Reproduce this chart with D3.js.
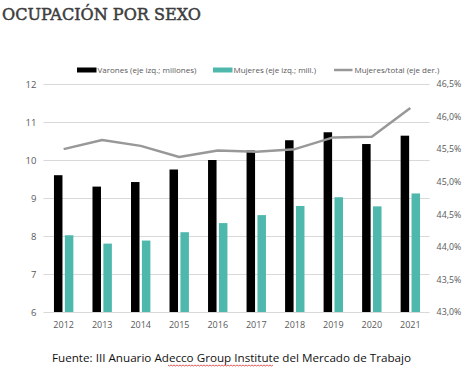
<!DOCTYPE html>
<html><head><meta charset="utf-8">
<script src="https://cdn.jsdelivr.net/npm/d3@7"></script>
<style>body{margin:0;background:#fff}svg{display:block}</style>
</head><body>
<svg id="c" width="467" height="370"></svg>
<script>
const years = ["2012","2013","2014","2015","2016","2017","2018","2019","2020","2021"];
const varones = [9.60, 9.30, 9.42, 9.75, 10.00, 10.25, 10.52, 10.73, 10.42, 10.64];
const mujeres = [8.02, 7.80, 7.88, 8.10, 8.34, 8.55, 8.79, 9.02, 8.78, 9.12];
const ratio = [45.50, 45.64, 45.55, 45.38, 45.48, 45.46, 45.50, 45.68, 45.69, 46.13];
const leftTicks = [6,7,8,9,10,11,12];
const rightTicks = [43.0,43.5,44.0,44.5,45.0,45.5,46.0,46.5];
const legendLabels = ["Varones (eje izq.; millones)","Mujeres (eje izq.; mill.)","Mujeres/total (eje der.)"];

const svg = d3.select("#c");
const L = 44.4, R = 429.6, T = 84, B = 312;
const x = d3.scaleBand().domain(years).range([L, R]);
const yL = d3.scaleLinear().domain([6,12]).range([B, T]);
const yR = d3.scaleLinear().domain([43,46.5]).range([B, T]);
const cBlack = "#000", cTeal = "#4fb8ad", cLine = "#989898", cText = "#595959";

// Title
svg.append("text").attr("x", 2).attr("y", 20)
  .attr("font-family", "DejaVu Serif").attr("font-weight", "normal")
  .attr("font-size", 16).attr("fill", "#3d3d3d").attr("stroke", "#3d3d3d").attr("stroke-width", 0.5)
  .attr("textLength", 199).attr("lengthAdjust", "spacingAndGlyphs")
  .text("OCUPACIÓN POR SEXO");

// gridlines
svg.append("g").selectAll("line").data(leftTicks).join("line")
  .attr("x1", L - 1).attr("x2", R).attr("y1", d => yL(d) + 0.5).attr("y2", d => yL(d) + 0.5)
  .attr("stroke", "#d9d9d9").attr("stroke-width", 1);

// left axis
const axL = svg.append("g").attr("transform", `translate(${L},0)`)
  .call(d3.axisLeft(yL).tickValues(leftTicks).tickSize(0).tickPadding(8).tickFormat(d3.format("d")));
axL.select(".domain").remove();
axL.selectAll("text").attr("font-family", "Open Sans").attr("font-size", 9.5).attr("fill", cText);

// right axis
const axR = svg.append("g").attr("transform", `translate(${R},0)`)
  .call(d3.axisRight(yR).tickValues(rightTicks).tickSize(0).tickPadding(7)
    .tickFormat(d => d.toFixed(1).replace(".", ",") + "%"));
axR.select(".domain").remove();
axR.selectAll("text").attr("font-family", "Open Sans").attr("font-size", 8.8).attr("fill", cText);

// bottom axis
const axB = svg.append("g").attr("transform", `translate(0,${B})`)
  .call(d3.axisBottom(x).tickSize(0).tickPadding(10));
axB.select(".domain").remove();
axB.selectAll("text").attr("font-family", "Open Sans").attr("font-size", 9).attr("fill", cText);

// bars
const bw = 8.5, gap = 2.4;
const cx = d => x(d) + x.bandwidth() / 2;
svg.append("g").selectAll("rect").data(years).join("rect")
  .attr("x", (d) => cx(d) - gap/2 - bw).attr("width", bw)
  .attr("y", (d, i) => yL(varones[i])).attr("height", (d, i) => B - yL(varones[i]))
  .attr("fill", cBlack);
svg.append("g").selectAll("rect").data(years).join("rect")
  .attr("x", (d) => cx(d) + gap/2).attr("width", bw)
  .attr("y", (d, i) => yL(mujeres[i])).attr("height", (d, i) => B - yL(mujeres[i]))
  .attr("fill", cTeal);

// line
const line = d3.line().x((d, i) => cx(years[i])).y(d => yR(d));
svg.append("path").datum(ratio).attr("d", line)
  .attr("fill", "none").attr("stroke", cLine).attr("stroke-width", 2.5).attr("stroke-linejoin", "round");

// legend
const lg = svg.append("g").attr("font-family", "Open Sans").attr("font-size", 8).attr("fill", cText);
const items = [
  {x: 77, t: legendLabels[0], type: "rect", c: cBlack},
  {x: 213, t: legendLabels[1], type: "rect", c: cTeal},
  {x: 334, t: legendLabels[2], type: "line", c: cLine}
];
items.forEach(it => {
  if (it.type === "rect") {
    lg.append("rect").attr("x", it.x).attr("y", 67.5).attr("width", 19.5).attr("height", 5).attr("fill", it.c);
  } else {
    lg.append("line").attr("x1", it.x).attr("x2", it.x + 18.5).attr("y1", 70).attr("y2", 70)
      .attr("stroke", it.c).attr("stroke-width", 2.5);
  }
  lg.append("text").attr("x", it.x + 20.5).attr("y", 73).text(it.t);
});

// source
svg.append("text").attr("x", 52).attr("y", 362)
  .attr("font-family", "Open Sans").attr("font-size", 11.5).attr("fill", "#111")
  .attr("textLength", 359).attr("lengthAdjust", "spacingAndGlyphs")
  .text("Fuente: III Anuario Adecco Group Institute del Mercado de Trabajo");

// spelling squiggle under "Group Institute"
const sq = [];
for (let px = 168; px <= 273; px += 1.5) sq.push([px, 365 + ((Math.round((px - 168) / 1.5) % 2) ? 1 : 0)]);
svg.append("path").attr("d", d3.line()(sq)).attr("fill", "none").attr("stroke", "#e03030").attr("stroke-width", 0.8);
</script>
</body></html>
